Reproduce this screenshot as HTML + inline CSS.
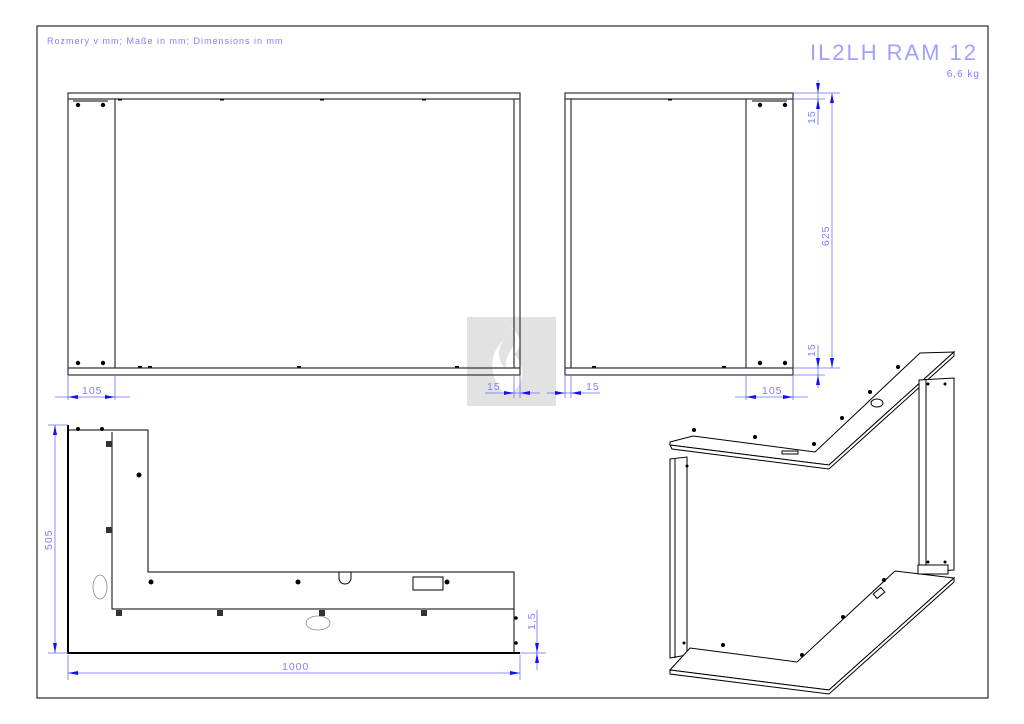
<!DOCTYPE html>
<html><head><meta charset="utf-8"><style>
html,body{margin:0;padding:0;background:#fff;}
svg{display:block;font-family:"Liberation Sans",sans-serif;}
.b{fill:none;stroke:#000;stroke-width:1}
.t{fill:none;stroke:#000;stroke-width:2}
.g{fill:none;stroke:#333;stroke-width:1.2}
.d{stroke:#6b6bff;stroke-width:0.8;fill:none}
.dt{fill:#8080ff;font-size:10.5px;letter-spacing:1px}
.a{fill:#1010ff}
</style></head><body>
<svg width="1024" height="724" viewBox="0 0 1024 724" xmlns="http://www.w3.org/2000/svg">
<rect x="37" y="26" width="951" height="672" class="b"/>
<text x="47" y="44" class="dt" style="font-size:9px">Rozmery v mm; Maße in mm; Dimensions in mm</text>
<text x="980" y="60" text-anchor="end" textLength="170" style="fill:#a0a0ff;font-size:22px;letter-spacing:4px;font-weight:lighter">IL2LH RAM 12</text>
<text x="980" y="77" text-anchor="end" class="dt" style="font-size:10px">6,6 kg</text>

<!-- watermark -->
<rect x="467" y="317" width="89" height="89" fill="#e2e2e2"/>
<path d="M510 326 C526 345 500 352 507 370 C498 362 496 350 504 340 C490 352 486 374 506 396 C524 388 528 368 514 354 C524 346 520 334 510 326Z" fill="#fff"/>

<!-- front view left -->
<rect x="68" y="93" width="452" height="282" class="g" stroke-width="1.6"/>
<line x1="68" y1="99" x2="520" y2="99" class="g"/>
<line x1="68" y1="368" x2="520" y2="368" class="g"/>
<line x1="115" y1="99" x2="115" y2="368" class="g" stroke-width="1.6"/>
<line x1="514" y1="99" x2="514" y2="368" class="g"/>
<line x1="73" y1="101" x2="108" y2="101" class="b"/>
<g fill="#000"><circle cx="78" cy="105" r="2.2"/><circle cx="103" cy="105" r="2.2"/><circle cx="78" cy="363" r="2.2"/><circle cx="103" cy="363" r="2.2"/>
<rect x="220" y="99" width="4" height="1.5"/><rect x="320" y="99" width="4" height="1.5"/><rect x="422" y="99" width="4" height="1.5"/><rect x="118" y="99" width="4" height="1.5"/>
<rect x="138" y="366" width="4" height="1.5"/><rect x="148" y="366" width="4" height="1.5"/><rect x="297" y="366" width="4" height="1.5"/><rect x="455" y="366" width="4" height="1.5"/></g>

<!-- side view right -->
<rect x="565" y="93" width="228" height="282" class="g" stroke-width="1.6"/>
<line x1="565" y1="99" x2="793" y2="99" class="g"/>
<line x1="565" y1="368" x2="793" y2="368" class="g"/>
<line x1="571" y1="99" x2="571" y2="368" class="g"/>
<line x1="746" y1="99" x2="746" y2="368" class="g" stroke-width="1.6"/>
<line x1="752" y1="101" x2="787" y2="101" class="b"/>
<g fill="#000"><circle cx="760" cy="105" r="2.2"/><circle cx="785" cy="105" r="2.2"/><circle cx="760" cy="363" r="2.2"/><circle cx="785" cy="363" r="2.2"/>
<rect x="668" y="99" width="4" height="1.5"/><rect x="592" y="366" width="4" height="1.5"/><rect x="722" y="366" width="4" height="1.5"/></g>

<!-- dims top views -->
<g class="d">
<line x1="68" y1="375" x2="68" y2="400"/><line x1="115" y1="375" x2="115" y2="400"/><line x1="55" y1="397" x2="130" y2="397"/>
<line x1="514" y1="375" x2="514" y2="398"/><line x1="520" y1="375" x2="520" y2="398"/><line x1="485" y1="393" x2="540" y2="393"/>
<line x1="565" y1="375" x2="565" y2="398"/><line x1="571" y1="375" x2="571" y2="398"/><line x1="547" y1="393" x2="600" y2="393"/>
<line x1="746" y1="375" x2="746" y2="400"/><line x1="793" y1="375" x2="793" y2="400"/><line x1="735" y1="397" x2="808" y2="397"/>
<line x1="793" y1="93" x2="840" y2="93"/><line x1="793" y1="99" x2="825" y2="99"/><line x1="793" y1="368" x2="840" y2="368"/><line x1="793" y1="375" x2="825" y2="375"/>
<line x1="818" y1="80" x2="818" y2="125"/><line x1="832" y1="93" x2="832" y2="368"/><line x1="818" y1="345" x2="818" y2="388"/>
</g>
<g class="a">
<path d="M68 397l10-2v4z M115 397l-10-2v4z M514 393l-10-2v4z M520 393l10-2v4z M565 393l-10-2v4z M571 393l10-2v4z M746 397l10-2v4z M793 397l-10-2v4z"/>
<path d="M818 93l-2-10h4z M818 99l-2 10h4z M832 93l-2 10h4z M832 368l-2-10h4z M818 368l-2-10h4z M818 375l-2 10h4z"/>
</g>
<text x="82" y="394" class="dt">105</text>
<text x="487" y="390" class="dt">15</text>
<text x="586" y="390" class="dt">15</text>
<text x="762" y="394" class="dt">105</text>
<text transform="translate(815,124) rotate(-90)" class="dt">15</text>
<text transform="translate(829,246) rotate(-90)" class="dt">625</text>
<text transform="translate(815,357) rotate(-90)" class="dt">15</text>

<!-- plan view -->
<path d="M68 425 V653 H520" class="t" stroke-width="2.5"/>
<path d="M68 430 H148 V572 H514 V653" class="b"/>
<path d="M112 432 V609 H514" class="b"/>
<path d="M339 572 v6 a6 6 0 0 0 12 0 v-6" class="b" fill="#fff"/>
<rect x="413" y="577" width="30" height="13" class="b"/>
<ellipse cx="100" cy="587" rx="7" ry="12" fill="none" stroke="#888" stroke-width="0.8"/>
<ellipse cx="318" cy="623" rx="12" ry="7" fill="none" stroke="#888" stroke-width="0.8"/>
<g fill="#000"><circle cx="78" cy="429" r="2"/><circle cx="102" cy="429" r="2"/>
<circle cx="139" cy="475" r="2.5"/><circle cx="151" cy="582" r="2.5"/><circle cx="298" cy="582" r="2.5"/><circle cx="447" cy="582" r="2.5"/>
<circle cx="516" cy="618" r="1.8"/><circle cx="516" cy="643" r="1.8"/></g>
<g fill="#333"><rect x="106" y="441" width="6" height="6"/><rect x="106" y="527" width="6" height="6"/><rect x="116" y="610" width="6" height="6"/><rect x="217" y="610" width="6" height="6"/><rect x="319" y="610" width="6" height="6"/><rect x="421" y="610" width="6" height="6"/></g>
<g class="d"><line x1="48" y1="425" x2="68" y2="425"/><line x1="48" y1="653" x2="68" y2="653"/><line x1="55" y1="425" x2="55" y2="653"/>
<line x1="68" y1="655" x2="68" y2="680"/><line x1="520" y1="655" x2="520" y2="680"/><line x1="68" y1="673" x2="520" y2="673"/>
<line x1="520" y1="653" x2="546" y2="653"/><line x1="537" y1="610" x2="537" y2="670"/></g>
<g class="a"><path d="M55 425l-2 10h4z M55 653l-2-10h4z M68 673l10-2v4z M520 673l-10-2v4z M537 653l-2-10h4z M537 653l-2 10h4z"/></g>
<text transform="translate(52,550) rotate(-90)" class="dt">505</text>
<text x="282" y="670" class="dt">1000</text>
<text transform="translate(535,630) rotate(-90)" class="dt">1,5</text>

<!-- isometric -->
<g fill="#fff" stroke="#000" stroke-width="1">
<path d="M670 442 L693 436 L815 452 L920 353 L954 352 L829 465 L670 445Z"/>
<path d="M670 445 L829 465 L954 352 L954 356 L829 469 L672 449Z"/>
<path d="M919 380 L954 378 L954 570 L919 572Z"/>
<line x1="926" y1="380" x2="926" y2="572"/>
<path d="M670 459 L687 457 L687 655 L670 658Z"/>
<line x1="675" y1="459" x2="675" y2="658"/>
<path d="M670 670 L690 648 L797 662 L895 571 L954 578 L829 690 Z"/>
<path d="M670 670 L829 690 L954 578 L954 582 L829 694 L670 674Z"/>
<rect x="918" y="565" width="30" height="9"/>
<rect x="874" y="590" width="10" height="6" transform="rotate(-40 879 593)"/>
<ellipse cx="877" cy="403" rx="6" ry="4"/>
<rect x="782" y="451" width="16" height="3"/>
</g>
<g fill="#000"><circle cx="694" cy="430" r="2"/><circle cx="755" cy="437" r="2"/><circle cx="814" cy="444" r="2"/><circle cx="842" cy="418" r="2"/><circle cx="870" cy="392" r="2"/><circle cx="898" cy="367" r="2"/>
<circle cx="723" cy="645" r="2"/><circle cx="802" cy="655" r="2"/><circle cx="843" cy="617" r="2"/><circle cx="884" cy="580" r="2"/><circle cx="928" cy="562" r="1.5"/><circle cx="945" cy="562" r="1.5"/><circle cx="928" cy="384" r="1.5"/><circle cx="945" cy="384" r="1.5"/>
<circle cx="687" cy="466" r="1.5"/><circle cx="684" cy="643" r="1.5"/></g>
</svg>
</body></html>
